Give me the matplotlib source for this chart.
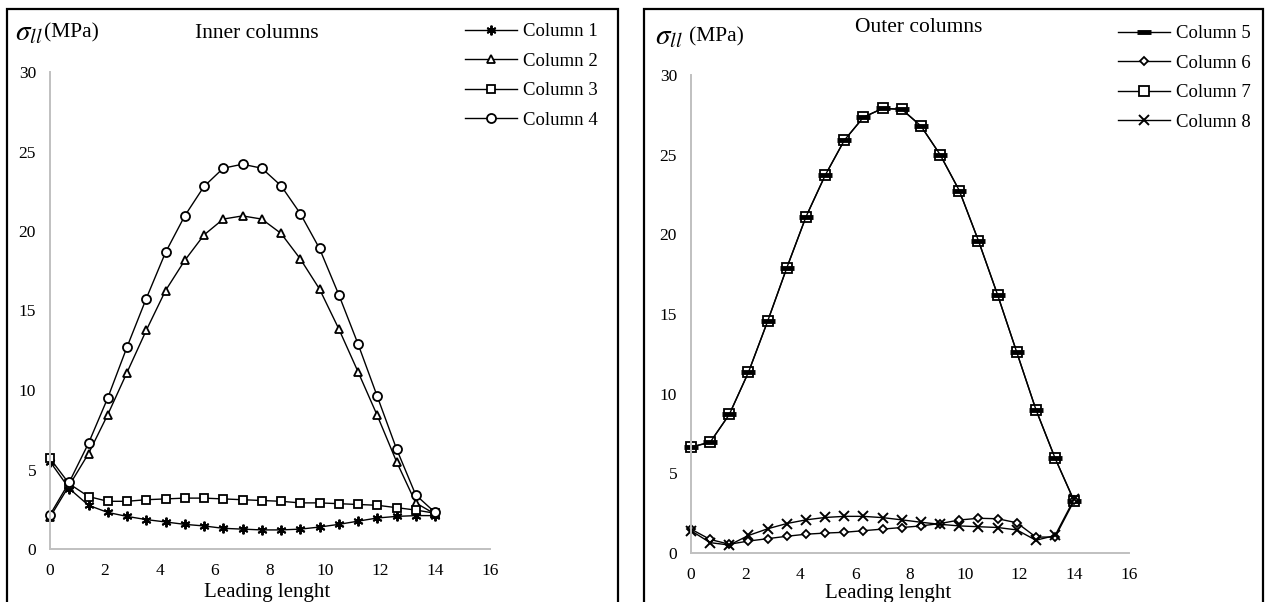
import matplotlib.pyplot as plt
from matplotlib.patches import Rectangle

plt.rcParams["font.family"] = ["Liberation Serif", "DejaVu Serif"]
plt.rcParams["mathtext.fontset"] = "stix"

W, H = 1266, 602

lead = [0, 0.7, 1.4, 2.1, 2.8, 3.5, 4.2, 4.9, 5.6, 6.3, 7.0,
        7.7, 8.4, 9.1, 9.8, 10.5, 11.2, 11.9, 12.6, 13.3, 14.0]

col1 = [5.5, 3.8, 2.75, 2.3, 2.05, 1.85, 1.7, 1.55, 1.45, 1.3, 1.25,
        1.2, 1.2, 1.25, 1.38, 1.55, 1.75, 1.95, 2.05, 2.1, 2.1]
col2 = [2.0, 4.0, 6.0, 8.45, 11.1, 13.75, 16.25, 18.15, 19.75, 20.75, 20.95,
        20.75, 19.85, 18.25, 16.35, 13.85, 11.15, 8.4, 5.5, 2.9, 2.2]
col3 = [5.7, 4.1, 3.3, 3.0, 3.0, 3.1, 3.15, 3.2, 3.2, 3.15, 3.1,
        3.05, 3.0, 2.9, 2.9, 2.85, 2.8, 2.75, 2.6, 2.45, 2.25]
col4 = [2.15, 4.2, 6.65, 9.5, 12.7, 15.75, 18.65, 20.95, 22.8, 23.95, 24.2,
        23.95, 22.85, 21.1, 18.9, 16.0, 12.9, 9.6, 6.3, 3.4, 2.3]

col5 = [6.65, 6.95, 8.7, 11.35, 14.55, 17.9, 21.1, 23.7, 25.9, 27.35, 27.9,
        27.85, 26.8, 25.0, 22.75, 19.6, 16.2, 12.6, 9.0, 5.95, 3.25]
col6 = [1.5, 0.85, 0.55, 0.75, 0.9, 1.05, 1.18, 1.25, 1.3, 1.4, 1.5,
        1.6, 1.7, 1.85, 2.07, 2.18, 2.15, 1.9, 1.0, 1.0, 3.3]
col7 = col5
col8 = [1.4, 0.65, 0.5, 1.1, 1.52, 1.85, 2.08, 2.23, 2.3, 2.3, 2.22,
        2.08, 1.93, 1.8, 1.7, 1.65, 1.6, 1.45, 0.8, 1.1, 3.4]

x_ticks = [0, 2, 4, 6, 8, 10, 12, 14, 16]
y_ticks = [0, 5, 10, 15, 20, 25, 30]

fig = plt.figure(figsize=(W / 100, H / 100), dpi=100)


def px_axes(x0, x1, y_top, y_bot):
    return fig.add_axes([x0 / W, 1 - y_bot / H, (x1 - x0) / W, (y_bot - y_top) / H])


def style(ax):
    for s in ("top", "right"):
        ax.spines[s].set_visible(False)
    for s in ("left", "bottom"):
        ax.spines[s].set_color("#c0c0c0")
        ax.spines[s].set_linewidth(1.4)
    ax.set_xlim(0, 16)
    ax.set_ylim(0, 30)
    ax.set_xticks(x_ticks)
    ax.set_yticks(y_ticks)
    ax.tick_params(axis="both", length=0, labelsize=12.5)
    ax.tick_params(axis="x", pad=10)
    ax.tick_params(axis="y", pad=10)
    ax.set_facecolor("none")


line_kw = dict(color="black", linewidth=1.0, markerfacecolor="white",
               markeredgecolor="black", clip_on=False)
legend_kw = dict(loc="upper left", frameon=False, fontsize=13.5,
                 handlelength=2.75, handletextpad=0.35, labelspacing=0.66,
                 borderpad=0, borderaxespad=0)

# panel borders
fig.patches.append(Rectangle((7 / W, -0.01), 611 / W, 1.01 - 9 / H,
                             transform=fig.transFigure, fill=False,
                             edgecolor="black", linewidth=1.6))
fig.patches.append(Rectangle((644 / W, -0.01), 619 / W, 1.01 - 9 / H,
                             transform=fig.transFigure, fill=False,
                             edgecolor="black", linewidth=1.6))

# inner columns
ax1 = px_axes(50, 490, 72, 549)
style(ax1)
h1, = ax1.plot(lead, col1, marker=(6, 2, 0), markersize=7, markeredgewidth=1.4, label="Column 1", **line_kw)
h2, = ax1.plot(lead, col2, marker="^", markersize=6, markeredgewidth=1.3, label="Column 2", **line_kw)
h3, = ax1.plot(lead, col3, marker="s", markersize=6, markeredgewidth=1.3, label="Column 3", **line_kw)
h4, = ax1.plot(lead, col4, marker="o", markersize=6.5, markeredgewidth=1.3, label="Column 4", **line_kw)
fig.legend(handles=[h1, h2, h3, h4], bbox_to_anchor=(465 / W, 1 - 23 / H), **legend_kw)
fig.text(257 / W, 1 - 34 / H, "Inner columns", ha="center", va="center", fontsize=15.5)
fig.text(15 / W, 1 - 33 / H, r"$\sigma_{ll}$", ha="left", va="center", fontsize=21)
fig.text(44 / W, 1 - 33 / H, "(MPa)", ha="left", va="center", fontsize=15.5)
fig.text(267 / W, 1 - 597 / H, "Leading lenght", ha="center", va="baseline", fontsize=15)

# outer columns
ax2 = px_axes(691, 1129, 75, 553)
style(ax2)
h7, = ax2.plot(lead, col7, marker="s", markersize=7, markeredgewidth=1.3, label="Column 7", **line_kw)
h5, = ax2.plot(lead, col5, marker="_", markersize=10, markeredgewidth=3.5, label="Column 5", **line_kw)
h6, = ax2.plot(lead, col6, marker="D", markersize=4.5, markeredgewidth=1.3, label="Column 6", **line_kw)
h8, = ax2.plot(lead, col8, marker="x", markersize=6.5, markeredgewidth=1.4, label="Column 8", **line_kw)
fig.legend(handles=[h5, h6, h7, h8], bbox_to_anchor=(1118 / W, 1 - 25 / H), **legend_kw)
fig.text(919 / W, 1 - 27 / H, "Outer columns", ha="center", va="center", fontsize=15.5)
fig.text(655 / W, 1 - 37 / H, r"$\sigma_{ll}$", ha="left", va="center", fontsize=21)
fig.text(689 / W, 1 - 37 / H, "(MPa)", ha="left", va="center", fontsize=15.5)
fig.text(888 / W, 1 - 598 / H, "Leading lenght", ha="center", va="baseline", fontsize=15)

fig.savefig("out.png", dpi=100)
